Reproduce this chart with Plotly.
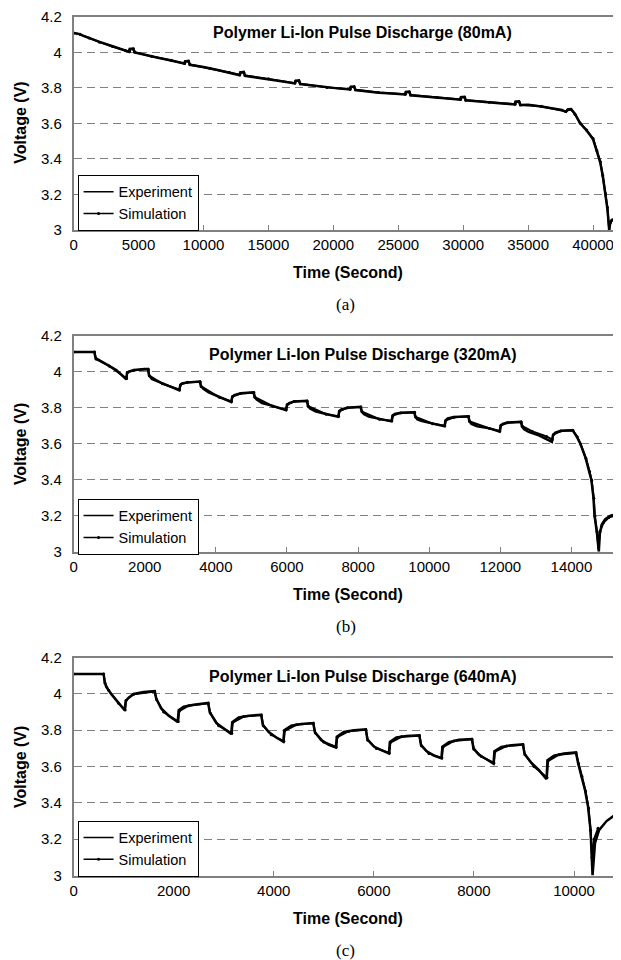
import plotly.graph_objects as go

# ---- data (time in s, voltage in V) ----
# (a) 80 mA
t_a_exp = [0, 400, 700, 1200, 2000, 3000, 3800, 4250, 4320, 4600, 4700, 5500, 6500, 7500,
           8300, 8520, 8580, 8850, 8950, 10000, 11000, 12000, 12600, 12780, 12850, 13100,
           13200, 14000, 15000, 16000, 16850, 17030, 17100, 17350, 17450, 18500, 19500,
           20500, 21150, 21280, 21350, 21600, 21700, 22500, 23500, 24500, 25400, 25500,
           25580, 25850, 25950, 27000, 28000, 29000, 29650, 29750, 29820, 30100, 30200,
           31000, 32000, 33000, 33800, 33950, 34020, 34300, 34400, 35000, 36000, 37000,
           37600, 37900, 38080, 38300, 38600, 39000, 39500, 40000, 40300, 40550, 40750,
           40950, 41100, 41240, 41300, 41400, 41600, 41850, 42000]
v_a_exp = [4.110, 4.105, 4.095, 4.080, 4.060, 4.035, 4.015, 4.005, 4.020, 4.022, 4.000,
           3.985, 3.970, 3.955, 3.942, 3.938, 3.950, 3.952, 3.930, 3.918, 3.902, 3.885,
           3.875, 3.872, 3.888, 3.890, 3.868, 3.860, 3.852, 3.838, 3.828, 3.826, 3.840,
           3.842, 3.822, 3.812, 3.802, 3.796, 3.793, 3.792, 3.806, 3.808, 3.788, 3.780,
           3.773, 3.768, 3.764, 3.763, 3.777, 3.779, 3.758, 3.750, 3.745, 3.739, 3.735,
           3.734, 3.748, 3.750, 3.730, 3.724, 3.718, 3.712, 3.708, 3.707, 3.722, 3.724,
           3.703, 3.705, 3.695, 3.685, 3.675, 3.665, 3.678, 3.680, 3.655, 3.600, 3.560,
           3.510, 3.440, 3.380, 3.300, 3.200, 3.120, 3.000, 3.030, 3.050, 3.060, 3.070, 3.075]
t_a_sim = [0, 500, 1200, 2000, 3000, 4000, 4300, 4350, 4600, 4700, 6000, 7500, 8550, 8600,
           8850, 8950, 10500, 12000, 12800, 12850, 13100, 13200, 15000, 17050, 17100,
           17350, 17450, 19500, 21300, 21350, 21600, 21700, 23500, 25550, 25600, 25850,
           25950, 28000, 29800, 29850, 30100, 30200, 32000, 34000, 34050, 34300, 34400,
           36000, 37900, 38050, 38300, 38600, 39000, 39500, 40000, 40300, 40550, 40750,
           40950, 41100, 41240, 41300, 41450, 41800]
v_a_sim = [4.110, 4.102, 4.082, 4.058, 4.033, 4.010, 4.004, 4.018, 4.020, 4.002, 3.978,
           3.956, 3.937, 3.949, 3.950, 3.932, 3.911, 3.887, 3.874, 3.887, 3.888, 3.870,
           3.851, 3.827, 3.839, 3.840, 3.823, 3.803, 3.793, 3.805, 3.806, 3.789, 3.774,
           3.764, 3.776, 3.777, 3.760, 3.746, 3.735, 3.747, 3.748, 3.731, 3.719, 3.708,
           3.721, 3.722, 3.705, 3.696, 3.667, 3.677, 3.679, 3.652, 3.602, 3.562, 3.515,
           3.445, 3.385, 3.305, 3.205, 3.125, 3.000, 3.035, 3.055, 3.070]

# (b) 320 mA
t_b_exp = [0, 580, 620, 800, 1000, 1200, 1480, 1500, 1550, 1700, 2000, 2090, 2120, 2200,
           2500, 2800, 2970, 3000, 3050, 3200, 3550, 3580, 3650, 3800, 4100, 4430, 4460,
           4520, 4700, 5060, 5090, 5150, 5300, 5600, 5970, 6000, 6060, 6200, 6560, 6590,
           6650, 6800, 7100, 7440, 7470, 7530, 7700, 8070, 8100, 8160, 8300, 8600, 8940,
           8970, 9030, 9200, 9580, 9610, 9670, 9800, 10100, 10430, 10460, 10520, 10700,
           11100, 11130, 11190, 11350, 11700, 11980, 12010, 12070, 12200, 12580, 12610,
           12670, 12800, 13100, 13450, 13480, 13540, 13700, 14030, 14150, 14250, 14400,
           14500, 14560, 14620, 14650, 14720, 14770, 14800, 14850, 14950, 15100, 15340]
v_b_exp = [4.110, 4.110, 4.075, 4.055, 4.035, 4.010, 3.958, 3.990, 4.000, 4.010, 4.015,
           4.015, 3.980, 3.960, 3.935, 3.910, 3.897, 3.925, 3.935, 3.940, 3.945, 3.920,
           3.905, 3.885, 3.860, 3.832, 3.860, 3.870, 3.880, 3.885, 3.860, 3.845, 3.825,
           3.810, 3.786, 3.815, 3.825, 3.835, 3.838, 3.810, 3.795, 3.780, 3.765, 3.749,
           3.780, 3.790, 3.800, 3.805, 3.780, 3.765, 3.750, 3.737, 3.724, 3.755, 3.765,
           3.772, 3.775, 3.750, 3.735, 3.725, 3.712, 3.697, 3.728, 3.740, 3.748, 3.752,
           3.725, 3.710, 3.697, 3.685, 3.667, 3.700, 3.710, 3.717, 3.722, 3.695, 3.680,
           3.665, 3.645, 3.610, 3.645, 3.660, 3.672, 3.675, 3.640, 3.600, 3.520, 3.450,
           3.400, 3.300, 3.200, 3.100, 3.000, 3.100, 3.150, 3.180, 3.200, 3.210]
t_b_sim = [0, 590, 630, 1000, 1490, 1510, 1700, 2100, 2130, 2500, 2980, 3010, 3200, 3560,
           3590, 4100, 4440, 4470, 4700, 5070, 5100, 5600, 5980, 6010, 6200, 6570, 6600,
           7100, 7450, 7480, 7700, 8080, 8110, 8600, 8950, 8980, 9200, 9590, 9620, 10100,
           10440, 10470, 10700, 11110, 11140, 11700, 11990, 12020, 12200, 12590, 12620,
           12900, 13300, 13460, 13490, 13700, 14040, 14160, 14260, 14410, 14510, 14570,
           14630, 14660, 14720, 14760, 14800, 14900, 15050, 15340]
v_b_sim = [4.110, 4.110, 4.070, 4.032, 3.962, 3.995, 4.008, 4.014, 3.978, 3.933, 3.900,
           3.928, 3.941, 3.944, 3.918, 3.858, 3.835, 3.862, 3.879, 3.884, 3.858, 3.808,
           3.789, 3.817, 3.834, 3.837, 3.808, 3.764, 3.752, 3.781, 3.799, 3.804, 3.778,
           3.736, 3.727, 3.756, 3.771, 3.774, 3.748, 3.711, 3.700, 3.730, 3.747, 3.751,
           3.723, 3.684, 3.670, 3.702, 3.716, 3.721, 3.697, 3.668, 3.640, 3.622, 3.650,
           3.670, 3.674, 3.638, 3.598, 3.518, 3.446, 3.396, 3.296, 3.196, 3.110, 3.020,
           3.110, 3.160, 3.190, 3.205]

# (c) 640 mA
t_c_exp = [0, 600, 620, 650, 750, 900, 1020, 1040, 1100, 1200, 1400, 1620, 1650, 1750,
           1900, 2080, 2100, 2200, 2400, 2690, 2720, 2850, 3000, 3150, 3170, 3300, 3500,
           3750, 3780, 3900, 4050, 4190, 4210, 4350, 4550, 4790, 4820, 4950, 5100, 5240,
           5260, 5400, 5600, 5840, 5870, 6000, 6150, 6300, 6320, 6450, 6650, 6910, 6940,
           7050, 7200, 7350, 7370, 7500, 7700, 7960, 7990, 8100, 8250, 8390, 8410, 8550,
           8750, 8980, 9010, 9150, 9300, 9450, 9470, 9600, 9800, 10040, 10080, 10150,
           10220, 10280, 10330, 10370, 10420, 10500, 10650, 10800, 10900]
v_c_exp = [4.110, 4.110, 4.070, 4.040, 4.000, 3.950, 3.910, 3.960, 3.980, 4.000, 4.010,
           4.015, 3.975, 3.920, 3.880, 3.845, 3.910, 3.930, 3.940, 3.950, 3.900, 3.840,
           3.810, 3.780, 3.845, 3.870, 3.880, 3.885, 3.830, 3.790, 3.760, 3.737, 3.800,
           3.825, 3.835, 3.840, 3.790, 3.745, 3.720, 3.705, 3.765, 3.790, 3.800, 3.805,
           3.750, 3.710, 3.690, 3.672, 3.735, 3.760, 3.768, 3.772, 3.720, 3.685, 3.660,
           3.645, 3.710, 3.735, 3.748, 3.752, 3.700, 3.665, 3.640, 3.616, 3.685, 3.708,
           3.718, 3.722, 3.670, 3.620, 3.580, 3.530, 3.635, 3.660, 3.672, 3.678, 3.620,
           3.550, 3.470, 3.380, 3.250, 3.000, 3.180, 3.250, 3.300, 3.330, 3.340]
t_c_sim = [0, 600, 625, 700, 900, 1030, 1050, 1200, 1620, 1660, 1800, 2090, 2110, 2300,
           2690, 2730, 2900, 3160, 3180, 3400, 3750, 3790, 3950, 4200, 4220, 4450, 4790,
           4830, 5000, 5250, 5270, 5500, 5840, 5880, 6050, 6310, 6330, 6550, 6910, 6950,
           7100, 7360, 7380, 7600, 7960, 8000, 8150, 8400, 8420, 8650, 8980, 9020, 9200,
           9460, 9480, 9700, 10040, 10090, 10160, 10230, 10290, 10330, 10360, 10400, 10480]
v_c_sim = [4.110, 4.110, 4.060, 4.020, 3.948, 3.912, 3.965, 3.998, 4.013, 3.968, 3.900,
           3.848, 3.905, 3.935, 3.948, 3.895, 3.825, 3.783, 3.842, 3.875, 3.884, 3.825,
           3.775, 3.740, 3.797, 3.830, 3.838, 3.785, 3.735, 3.708, 3.762, 3.795, 3.803,
           3.745, 3.700, 3.675, 3.732, 3.764, 3.770, 3.715, 3.672, 3.648, 3.707, 3.741,
           3.750, 3.695, 3.655, 3.620, 3.682, 3.713, 3.720, 3.665, 3.600, 3.540, 3.630,
           3.665, 3.675, 3.615, 3.545, 3.465, 3.370, 3.250, 3.100, 3.200, 3.260]

titles = ['Polymer Li-Ion Pulse Discharge (80mA)',
          'Polymer Li-Ion Pulse Discharge (320mA)',
          'Polymer Li-Ion Pulse Discharge (640mA)']
captions = ['(a)', '(b)', '(c)']
x_max = [42000, 15340, 10900]
x_step = [5000, 2000, 2000]

W, H = 621, 960
FONT = 'Arial, Liberation Sans, sans-serif'

# the page shows the figure a little offset/squeezed; map wanted screen px -> paper
X_OFF = 10
Y_OFF, Y_SCALE = 16.2, 0.9826


def px(x):
    return (x - X_OFF) / W


def py(y):
    return min(1.0, 1 - ((y - Y_OFF) / Y_SCALE) / H)


# wanted screen geometry of the three plot areas: (top, bottom)
panels = [(14, 229), (335, 551), (657, 875)]
legend_mid = [202, 526, 848]
title_y = [32, 354, 676]

series = [(t_a_exp, v_a_exp, t_a_sim, v_a_sim),
          (t_b_exp, v_b_exp, t_b_sim, v_b_sim),
          (t_c_exp, v_c_exp, t_c_sim, v_c_sim)]

fig = go.Figure()
annotations = []

for i, (te, ve, ts, vs) in enumerate(series):
    n = '' if i == 0 else str(i + 1)
    leg = 'legend' + n
    xa, ya = 'x' + n, 'y' + n
    fig.add_trace(go.Scatter(
        x=te, y=ve, mode='lines', line=dict(color='black', width=2.5),
        xaxis=xa, yaxis=ya, showlegend=False
    ))
    fig.add_trace(go.Scatter(
        x=ts, y=vs, mode='lines+markers', line=dict(color='black', width=2),
        marker=dict(color='black', size=3), xaxis=xa, yaxis=ya, showlegend=False
    ))
    # legend entries drawn thinner, like the original key
    fig.add_trace(go.Scatter(
        x=[None], y=[None], mode='lines', name='Experiment',
        line=dict(color='black', width=1.5), xaxis=xa, yaxis=ya, legend=leg
    ))
    fig.add_trace(go.Scatter(
        x=[None], y=[None], mode='lines+markers', name='Simulation',
        line=dict(color='black', width=1.5), marker=dict(color='black', size=3),
        xaxis=xa, yaxis=ya, legend=leg
    ))

    top, bot = panels[i]
    axis_x = dict(
        domain=[px(72), px(621)], range=[0, x_max[i]], dtick=x_step[i], tick0=0,
        tickformat='d', showgrid=False, zeroline=False, showline=True,
        linecolor='#808080', linewidth=1.5, mirror=True, ticks='inside', ticklen=5,
        tickcolor='#808080', tickfont=dict(family=FONT, size=15, color='black'),
        anchor=ya, ticklabelstandoff=1
    )
    axis_y = dict(
        domain=[py(bot), py(top)], range=[3, 4.2], dtick=0.2, tick0=3,
        showgrid=True, gridcolor='#808080', gridwidth=1.3, griddash='8px,5px',
        zeroline=False, showline=True, linecolor='#808080', linewidth=1.5,
        ticks='', tickfont=dict(family=FONT, size=15, color='black'),
        anchor=xa, ticklabelstandoff=7, tickformat='.1~f'
    )
    fig.update_layout({'xaxis' + n: axis_x, 'yaxis' + n: axis_y})

    fig.update_layout({leg: dict(
        x=px(76), y=py(legend_mid[i]), xanchor='left', yanchor='middle',
        bgcolor='white', bordercolor='black', borderwidth=1,
        font=dict(family=FONT, size=14.5, color='black'),
        tracegroupgap=0, itemwidth=30
    )})

    annotations += [
        dict(text='<b>' + titles[i] + '</b>', x=px(363), y=py(title_y[i]),
             font=dict(family=FONT, size=16, color='black')),
        dict(text='<b>Voltage (V)</b>', x=px(18.5), y=py((top + bot) / 2),
             textangle=-90, font=dict(family=FONT, size=16, color='black')),
        dict(text='<b>Time (Second)</b>', x=px(348), y=py(bot + 43),
             font=dict(family=FONT, size=16, color='black')),
        dict(text=captions[i], x=px(346), y=py(bot + 75),
             font=dict(family='Times New Roman, Liberation Serif, serif', size=17,
                       color='black')),
    ]

for a in annotations:
    a.update(xref='paper', yref='paper', showarrow=False, xanchor='center',
             yanchor='middle')

fig.update_layout(
    width=W, height=H,
    margin=dict(l=0, r=0, t=0, b=0),
    paper_bgcolor='white', plot_bgcolor='white',
    annotations=annotations
)

fig.write_html("out.html")
